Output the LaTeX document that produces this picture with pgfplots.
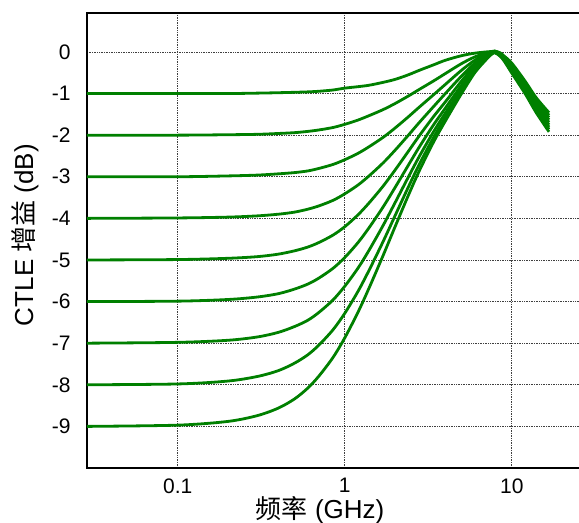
\documentclass[border=0pt]{standalone}
\usepackage{fontspec}
\setmainfont{Liberation Sans}
\newfontfamily\cjk{Noto Sans CJK SC}
\usepackage{pgfplots}
\pgfplotsset{compat=1.18}
\usepackage{pgfplotstable}
\definecolor{curvegreen}{RGB}{0,128,0}

\pgfplotstableread{
f      c1     c2     c3     c4     c5     c6     c7     c8     c9
0.0286 -1.00  -2.00  -3.00  -4.00  -5.00  -6.00  -7.00  -8.00  -9.00
0.1    -1.00  -2.00  -3.00  -3.99  -4.99  -5.99  -6.98  -7.98  -8.97
0.2    -1.00  -1.99  -2.98  -3.97  -4.96  -5.95  -6.93  -7.91  -8.88
0.3    -0.99  -1.98  -2.96  -3.94  -4.92  -5.89  -6.85  -7.80  -8.74
0.4    -0.98  -1.96  -2.93  -3.90  -4.86  -5.81  -6.74  -7.66  -8.56
0.5    -0.97  -1.94  -2.90  -3.85  -4.78  -5.70  -6.60  -7.48  -8.34
0.6    -0.96  -1.91  -2.86  -3.78  -4.69  -5.58  -6.45  -7.28  -8.08
0.7    -0.945 -1.875 -2.80  -3.70  -4.58  -5.435 -6.26  -7.045 -7.79
0.85   -0.915 -1.816 -2.704 -3.567 -4.402 -5.201 -5.961 -6.677 -7.343
1      -0.87  -1.74  -2.59  -3.41  -4.20  -4.94  -5.63  -6.28  -6.87
1.2    -0.835 -1.637 -2.437 -3.198 -3.914 -4.581 -5.195 -5.753 -6.254
1.4    -0.80  -1.53  -2.276 -2.976 -3.625 -4.22  -4.76  -5.241 -5.666
1.7    -0.73  -1.384 -2.05  -2.663 -3.22  -3.719 -4.162 -4.548 -4.882
2      -0.66  -1.24  -1.829 -2.362 -2.839 -3.258 -3.623 -3.935 -4.201
2.4    -0.55  -1.06  -1.56  -2.003 -2.39  -2.724 -3.009 -3.249 -3.45
2.8    -0.44  -0.898 -1.322 -1.69  -2.008 -2.277 -2.503 -2.692 -2.848
3.4    -0.31  -0.697 -1.029 -1.313 -1.553 -1.752 -1.918 -2.054 -2.166
4      -0.20  -0.52  -0.78  -1.00  -1.20  -1.35  -1.47  -1.57  -1.66
5      -0.09  -0.28  -0.44  -0.58  -0.70  -0.80  -0.88  -0.95  -1.00
6      -0.03  -0.12  -0.20  -0.27  -0.33  -0.38  -0.43  -0.47  -0.50
7       0.00  -0.03  -0.06  -0.09  -0.11  -0.13  -0.15  -0.17  -0.19
7.5     0.01   0.00  -0.01  -0.02  -0.03  -0.04  -0.05  -0.06  -0.07
7.9     0.02   0.02   0.01   0.01   0.00   0.00  -0.01  -0.01  -0.02
8.5    -0.02  -0.03  -0.04  -0.05  -0.06  -0.07  -0.08  -0.09  -0.10
9      -0.10  -0.115 -0.13  -0.145 -0.16  -0.175 -0.19  -0.205 -0.22
10     -0.27  -0.30  -0.33  -0.36  -0.39  -0.42  -0.45  -0.48  -0.51
12     -0.70  -0.74  -0.775 -0.81  -0.85  -0.89  -0.925 -0.96  -1.00
14     -1.10  -1.145 -1.19  -1.235 -1.28  -1.325 -1.37  -1.415 -1.46
16.7   -1.46  -1.52  -1.575 -1.63  -1.69  -1.75  -1.805 -1.86  -1.92
}\data

\begin{document}
\begin{tikzpicture}
\useasboundingbox (0,0) rectangle (579bp,523bp);
\clip (0,0) rectangle (579bp,523bp);
\begin{axis}[
  at={(87bp,55bp)}, anchor=south west,
  scale only axis, width=504.5bp, height=455bp,
  xmode=log, xmin=0.0286, xmax=30,
  ymin=-10, ymax=0.936,
  xtick={0.1,1,10}, xticklabels={0.1,1,10},
  ytick={-9,-8,-7,-6,-5,-4,-3,-2,-1,0},
  yticklabels={-9,-8,-7,-6,-5,-4,-3,-2,-1,0},
  major tick length=0pt, minor tick length=0pt,
  xminorgrids=false,
  grid=major,
  grid style={line width=0.8bp, black!75, dash pattern=on 1bp off 0.7bp},
  axis line style={line width=2.5bp, black},
  tick label style={font=\fontsize{21bp}{24bp}\selectfont},
  yticklabel style={xshift=-13bp},
  xticklabel style={yshift=-7bp},
  xlabel={{\cjk 频率} (GHz)},
  ylabel={CTLE {\cjk 增益} (dB)},
  label style={font=\fontsize{26bp}{30bp}\selectfont},
  xlabel style={at={(axis description cs:0.462,-0.092)}, anchor=center},
  ylabel style={at={(axis description cs:-0.123,0.512)}, anchor=center},
]
\pgfplotsinvokeforeach{1,...,9}{
  \addplot[curvegreen, line width=2.8bp, smooth] table[x=f, y=c#1]{\data};
}
\end{axis}
\end{tikzpicture}
\end{document}
